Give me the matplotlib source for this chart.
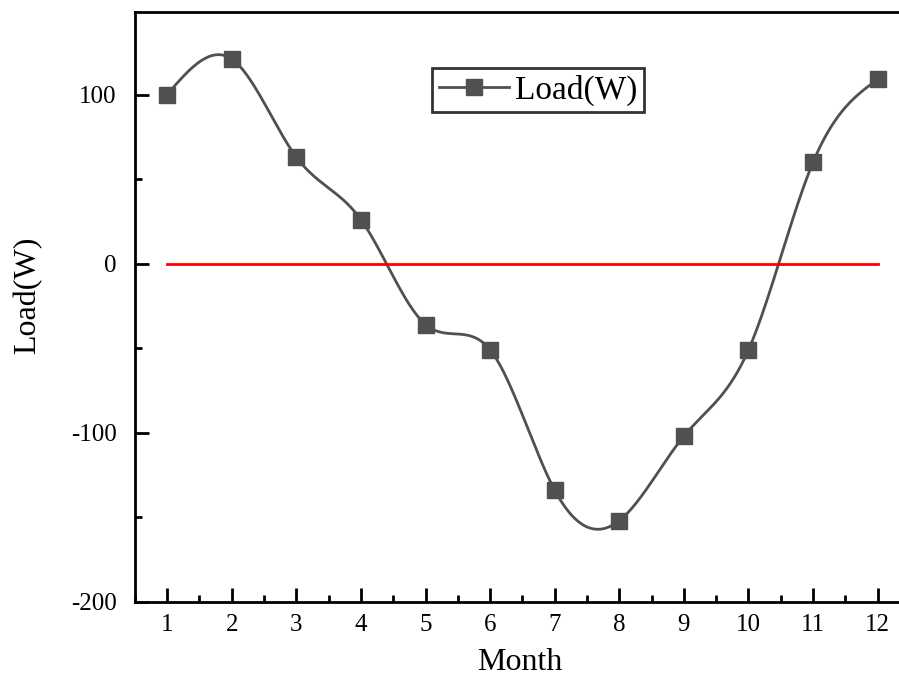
import numpy as np
import matplotlib.pyplot as plt
from matplotlib.ticker import MultipleLocator

months = [1, 2, 3, 4, 5, 6, 7, 8, 9, 10, 11, 12]
load = [100, 121, 63, 26, -36, -51, -134, -152, -102, -51, 60, 109]
zero_line = [0] * len(months)


def smooth(x, y, n=400):
    # natural cubic spline through the points, just for drawing the line
    x = np.asarray(x, float)
    y = np.asarray(y, float)
    k = len(x)
    h = np.diff(x)
    A = np.zeros((k, k))
    b = np.zeros(k)
    A[0, 0] = A[-1, -1] = 1
    for i in range(1, k - 1):
        A[i, i - 1] = h[i - 1]
        A[i, i] = 2 * (h[i - 1] + h[i])
        A[i, i + 1] = h[i]
        b[i] = 6 * ((y[i + 1] - y[i]) / h[i] - (y[i] - y[i - 1]) / h[i - 1])
    m = np.linalg.solve(A, b)
    xs = np.linspace(x[0], x[-1], n)
    j = np.clip(np.searchsorted(x, xs) - 1, 0, k - 2)
    t = xs - x[j]
    hj = h[j]
    a = y[j]
    c = (y[j + 1] - y[j]) / hj - hj * (2 * m[j] + m[j + 1]) / 6
    ys = a + c * t + m[j] / 2 * t ** 2 + (m[j + 1] - m[j]) / (6 * hj) * t ** 3
    return xs, ys


plt.rcParams['font.family'] = ['Liberation Serif', 'DejaVu Serif']
plt.rcParams['axes.unicode_minus'] = False

fig = plt.figure(figsize=(8.99, 6.87), dpi=100)
ax = fig.add_axes([0.150, 0.124, 0.85, 0.859])

col = '#505050'
xs, ys = smooth(months, load)
ax.plot(xs, ys, color=col, lw=2)
ax.plot(months, load, 's', color=col, ms=11.5)
ax.plot([], [], '-s', color=col, lw=2, ms=12, label='Load(W)')
ax.plot(months, zero_line, color='red', lw=2)

ax.set_xlim(0.5, 12.33)
ax.set_ylim(-200, 149)
ax.set_xticks(months)
ax.set_yticks([-200, -100, 0, 100])
ax.xaxis.set_minor_locator(MultipleLocator(0.5))
ax.yaxis.set_minor_locator(MultipleLocator(50))
ax.tick_params(which='major', direction='in', length=10, width=2, labelsize=18)
ax.tick_params(axis='x', which='major', pad=9)
ax.tick_params(axis='y', which='major', pad=13)
ax.tick_params(which='minor', direction='in', length=5, width=2)
ax.tick_params(axis='x', which='both', top=False)
ax.tick_params(axis='y', which='both', right=False)
for s in ['left', 'bottom', 'top']:
    ax.spines[s].set_linewidth(2)
ax.spines['right'].set_visible(False)

ax.set_xlabel('Month', fontsize=23)
ax.set_ylabel('Load(W)', fontsize=23)
ax.xaxis.set_label_coords(0.504, -0.078)
ax.yaxis.set_label_coords(-0.121, 0.519)

leg = ax.legend(loc='upper left', bbox_to_anchor=(0.367, 0.933), fontsize=24,
                frameon=True, fancybox=False, handlelength=2.1,
                borderpad=0.2, handletextpad=0.2)
leg.get_frame().set_edgecolor('black')
leg.get_frame().set_linewidth(2)

fig.savefig('out.png', dpi=100)
